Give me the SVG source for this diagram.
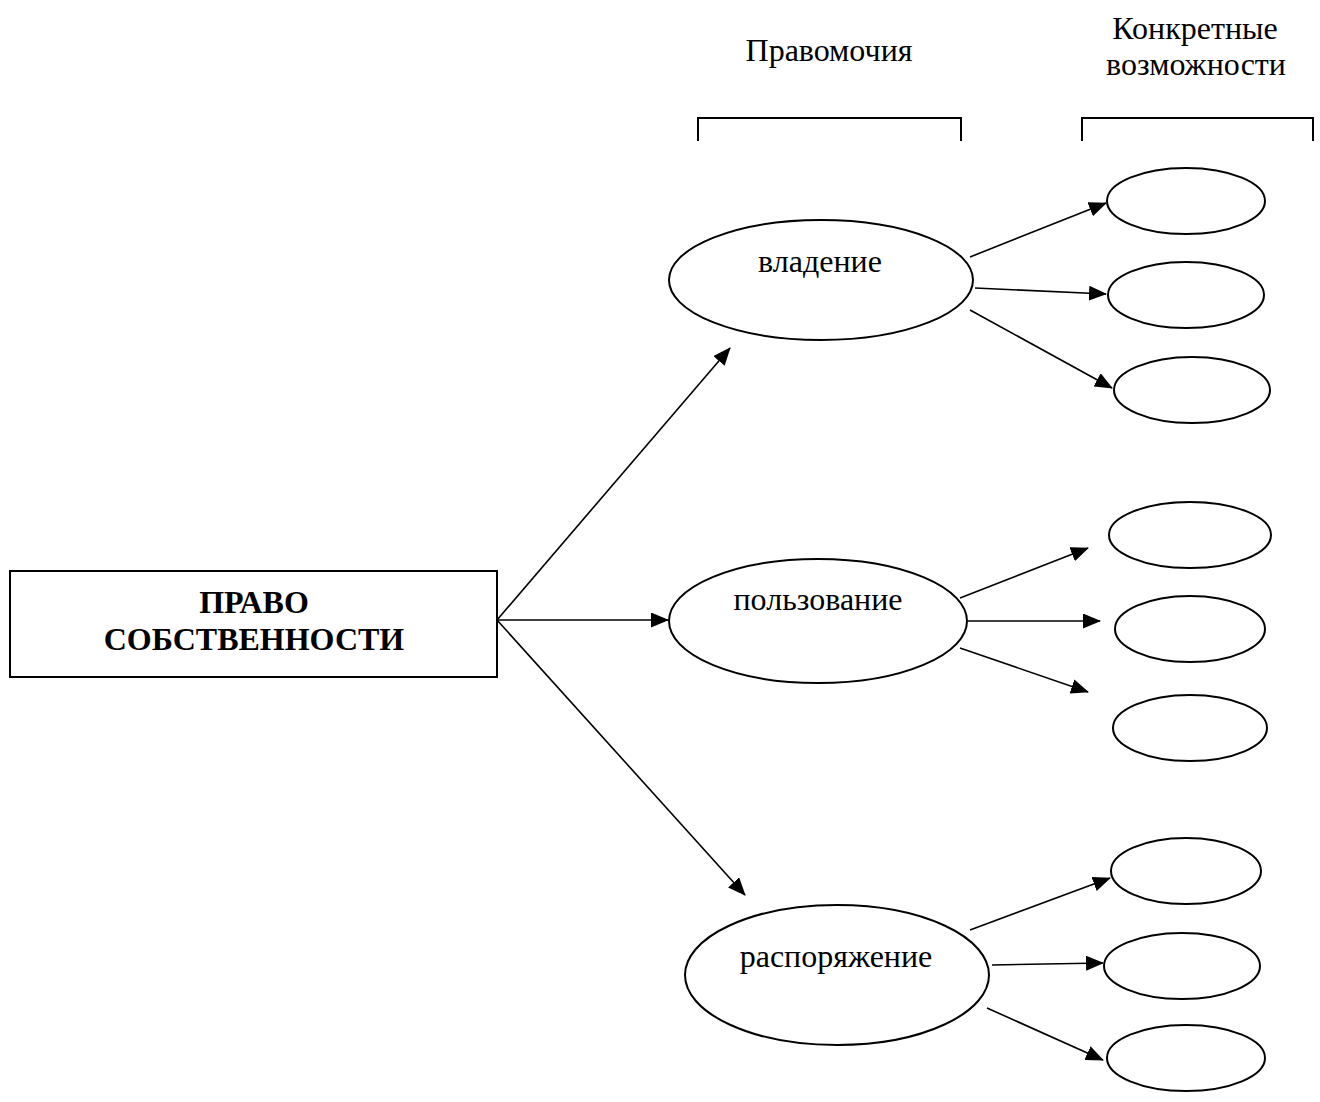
<svg xmlns="http://www.w3.org/2000/svg" width="1320" height="1102" viewBox="0 0 1320 1102">
<style>
.t{font-family:"Liberation Serif","Times New Roman",serif;font-size:32px;fill:#000;text-anchor:middle}
.b{font-weight:bold}
.n{fill:#fff;stroke:#000;stroke-width:2}
.c{stroke:#000;stroke-width:1.6;fill:none}
.br{stroke:#000;stroke-width:2;fill:none}
</style>
<defs>
<marker id="ah" markerUnits="userSpaceOnUse" markerWidth="19" markerHeight="15" refX="17" refY="7.5" orient="auto">
<path d="M0,0 L18,7.5 L0,15 z" fill="#000"/>
</marker>
</defs>
<rect width="1320" height="1102" fill="#fff"/>
<g id="headers">
<text class="t" x="829" y="61">Правомочия</text>
<text class="t" x="1195" y="39">Конкретные</text>
<text class="t" x="1196" y="75">возможности</text>
<path class="br" d="M698,141 V118 H961 V141"/>
<path class="br" d="M1082,141 V118 H1313 V141"/>
</g>
<g id="connectors">
<line class="c" x1="497" y1="620" x2="730" y2="348" marker-end="url(#ah)"/>
<line class="c" x1="497" y1="620" x2="668" y2="620" marker-end="url(#ah)"/>
<line class="c" x1="497" y1="620" x2="745" y2="895" marker-end="url(#ah)"/>
<line class="c" x1="970" y1="257" x2="1106" y2="203" marker-end="url(#ah)"/>
<line class="c" x1="975" y1="288" x2="1106" y2="294" marker-end="url(#ah)"/>
<line class="c" x1="970" y1="310" x2="1112" y2="388" marker-end="url(#ah)"/>
<line class="c" x1="960" y1="598" x2="1088" y2="548" marker-end="url(#ah)"/>
<line class="c" x1="968" y1="621" x2="1100" y2="621" marker-end="url(#ah)"/>
<line class="c" x1="960" y1="648" x2="1088" y2="692" marker-end="url(#ah)"/>
<line class="c" x1="970" y1="930" x2="1110" y2="878" marker-end="url(#ah)"/>
<line class="c" x1="992" y1="965" x2="1103" y2="963" marker-end="url(#ah)"/>
<line class="c" x1="987" y1="1008" x2="1103" y2="1060" marker-end="url(#ah)"/>
</g>
<g id="root">
<rect class="n" x="10" y="571" width="487" height="106"/>
<text class="t b" x="254" y="613">ПРАВО</text>
<text class="t b" x="254" y="650">СОБСТВЕННОСТИ</text>
</g>
<g id="vladenie">
<ellipse class="n" cx="821" cy="280" rx="152" ry="60"/>
<text class="t" x="820" y="272">владение</text>
</g>
<g id="polzovanie">
<ellipse class="n" cx="818" cy="621" rx="149" ry="62"/>
<text class="t" x="818" y="610">пользование</text>
</g>
<g id="rasporyazhenie">
<ellipse class="n" cx="837" cy="975" rx="152" ry="70"/>
<text class="t" x="836" y="967">распоряжение</text>
</g>
<g id="v1"><ellipse class="n" cx="1186" cy="201" rx="79" ry="33"/></g>
<g id="v2"><ellipse class="n" cx="1186" cy="295" rx="78" ry="33"/></g>
<g id="v3"><ellipse class="n" cx="1192" cy="390" rx="78" ry="33"/></g>
<g id="p1"><ellipse class="n" cx="1190" cy="535" rx="81" ry="33"/></g>
<g id="p2"><ellipse class="n" cx="1190" cy="629" rx="75" ry="33"/></g>
<g id="p3"><ellipse class="n" cx="1190" cy="728" rx="77" ry="33"/></g>
<g id="r1"><ellipse class="n" cx="1186" cy="871" rx="75" ry="33"/></g>
<g id="r2"><ellipse class="n" cx="1182" cy="966" rx="78" ry="33"/></g>
<g id="r3"><ellipse class="n" cx="1186" cy="1058" rx="79" ry="33"/></g>
</svg>
